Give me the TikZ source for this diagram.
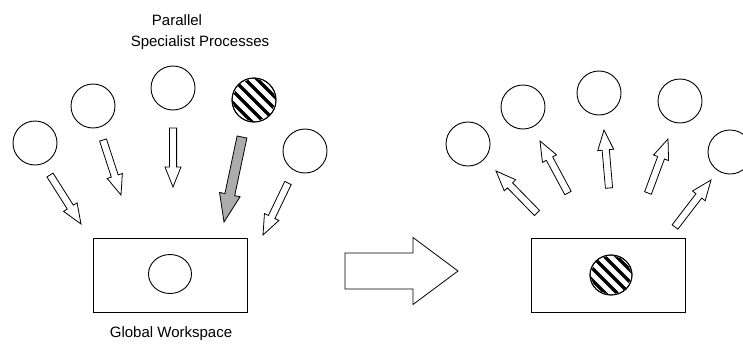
\documentclass[tikz,border=0pt]{standalone}
\usepackage{fontspec}
\setmainfont{Liberation Sans}
\usetikzlibrary{calc,shapes.geometric}
\tikzset{
  proc/.style={circle, draw, line width=0.9pt, minimum size=44pt, inner sep=0pt},
  inner/.style={ellipse, draw, line width=0.9pt, minimum width=43pt, minimum height=39pt, inner sep=0pt},
  ws/.style={draw, line width=0.9pt, minimum width=154pt, minimum height=74pt, inner sep=0pt},
  blk/.style={draw, line width=0.8pt, fill=white, line join=miter},
  gblk/.style={blk, fill=gray!65},
  lbl/.style={font=\fontsize{15}{17}\selectfont, inner sep=0pt},
  stripe/.style={line width=3.4pt, black},
}
% style, tail, tip, half shaft, half head, head length
\newcommand\blockarrow[6]{%
  \coordinate (#2-hb) at ($(#3)!#6!(#2)$);
  \draw[#1] ($(#2)!#4!90:(#3)$) -- ($(#2-hb)!#4!90:(#3)$) -- ($(#2-hb)!#5!90:(#3)$)
    -- (#3) -- ($(#2-hb)!#5!-90:(#3)$) -- ($(#2-hb)!#4!-90:(#3)$) -- ($(#2)!#4!-90:(#3)$) -- cycle;
}
\newcommand\hatchin[1]{%
  \begin{scope}
    \clip (#1.north) -- (#1.north east) -- (#1.east) -- (#1.south east) -- (#1.south) -- (#1.south west) -- (#1.west) -- (#1.north west) -- cycle;
    \path[clip] (#1.center) ellipse [x radius=22pt, y radius=22pt];
    \foreach \k in {-4,...,4}
      \draw[stripe] ($(#1.center)+(\k*6.0,-\k*6.0)+(-30,-30)$) -- ++(60,60);
  \end{scope}
}
\begin{document}
\begin{tikzpicture}[x=1pt,y=-1pt]
\useasboundingbox (0,0) rectangle (743,348);

% labels
\node[lbl] (t1) at (177,20) {Parallel};
\node[lbl] (t2) at (200,43) {Specialist Processes};
\node[lbl] (t3) at (171,334) {Global Workspace};

% left panel
\node[proc] (L1) at (35,143) {};
\node[proc] (L2) at (93,106) {};
\node[proc] (L3) at (173,88) {};
\node[proc] (L4) at (254,100) {};
\node[proc] (L5) at (305,151) {};
\hatchin{L4}
\node[proc] at (L4) {};

\node[ws] (W1) at (170,275) {};
\node[inner] (E1) at (170,274) {};

\coordinate (a1t) at (50,175);  \coordinate (a1h) at (81,224);
\coordinate (a2t) at (103,140); \coordinate (a2h) at (121,195);
\coordinate (a3t) at (173,128); \coordinate (a3h) at (173,187);
\coordinate (a4t) at (242,137); \coordinate (a4h) at (224,222);
\coordinate (a5t) at (288,183); \coordinate (a5h) at (263,235);
\blockarrow{blk}{a1t}{a1h}{3.6pt}{8pt}{20pt}
\blockarrow{blk}{a2t}{a2h}{3.6pt}{8pt}{20pt}
\blockarrow{blk}{a3t}{a3h}{3.6pt}{8pt}{20pt}
\blockarrow{gblk}{a4t}{a4h}{5pt}{10.5pt}{28pt}
\blockarrow{blk}{a5t}{a5h}{3.6pt}{8pt}{20pt}

% big arrow
\coordinate (bt) at (345,271);
\coordinate (bh) at (458,271);
\blockarrow{blk}{bt}{bh}{18pt}{33.5pt}{45pt}

% right panel
\node[proc] (R1) at (468,144) {};
\node[proc] (R2) at (523,107) {};
\node[proc] (R3) at (599,93) {};
\node[proc] (R4) at (680,101) {};
\node[proc] (R5) at (730,152) {};

\node[ws] (W2) at (608,275) {};
\node[inner, minimum width=42pt, minimum height=40pt] (E2) at (611,275) {};
\hatchin{E2}
\node[inner, minimum width=42pt, minimum height=40pt] at (E2) {};

\coordinate (b1t) at (537,213); \coordinate (b1h) at (496,171);
\coordinate (b2t) at (568,193); \coordinate (b2h) at (540,141);
\coordinate (b3t) at (609,188); \coordinate (b3h) at (604,130);
\coordinate (b4t) at (648,193); \coordinate (b4h) at (668,139);
\coordinate (b5t) at (675,227); \coordinate (b5h) at (711,180);
\blockarrow{blk}{b1t}{b1h}{3.6pt}{8pt}{20pt}
\blockarrow{blk}{b2t}{b2h}{3.6pt}{8pt}{20pt}
\blockarrow{blk}{b3t}{b3h}{3.6pt}{8pt}{20pt}
\blockarrow{blk}{b4t}{b4h}{3.6pt}{8pt}{20pt}
\blockarrow{blk}{b5t}{b5h}{3.6pt}{8pt}{20pt}
\end{tikzpicture}
\end{document}
